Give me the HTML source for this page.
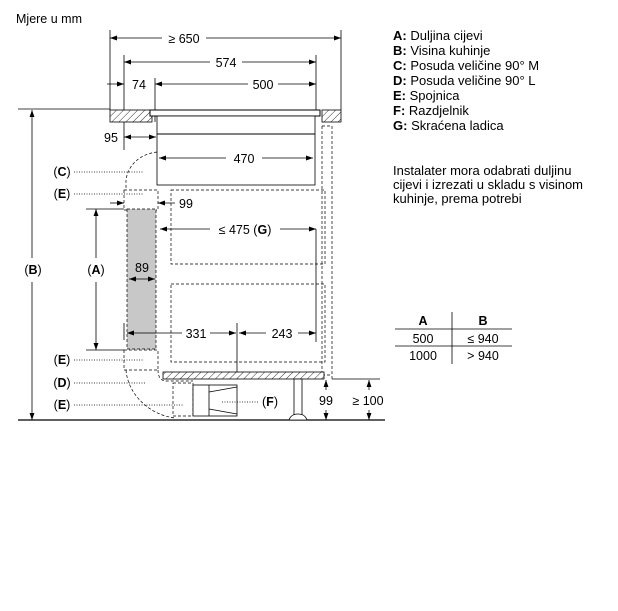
<!DOCTYPE html>
<html><head><style>
body{margin:0;background:#fff;}
svg{display:block;font-family:"Liberation Sans",Arial,sans-serif;}
</style></head><body>
<svg width="618" height="611" viewBox="0 0 618 611" xmlns="http://www.w3.org/2000/svg">
<defs>
<pattern id="h" width="5" height="5" patternUnits="userSpaceOnUse" patternTransform="rotate(45)">
<rect width="5" height="5" fill="#fff"/><line x1="0" y1="0" x2="0" y2="5" stroke="#000" stroke-width="0.8"/>
</pattern>
<marker id="a" viewBox="0 0 10 10" refX="10" refY="5" markerWidth="7" markerHeight="7" orient="auto-start-reverse" markerUnits="userSpaceOnUse"><path d="M0,1.5L10,5L0,8.5z" fill="#000"/></marker>
</defs>
<g font-size="12.5" fill="#000">
<text x="16" y="23">Mjere u mm</text>
</g>
<g stroke="#000" stroke-width="0.8" fill="none">
<line x1="110" y1="30" x2="110" y2="110"/>
<line x1="341" y1="30" x2="341" y2="110"/>
<line x1="124" y1="55" x2="124" y2="150"/>
<line x1="316" y1="55" x2="316" y2="116"/>
<line x1="155" y1="78" x2="155" y2="122"/>
<line x1="18" y1="109" x2="110" y2="109"/>
<line x1="110" y1="38" x2="162" y2="38" marker-start="url(#a)"/><line x1="206" y1="38" x2="341" y2="38" marker-end="url(#a)"/>
<line x1="124" y1="62" x2="210" y2="62" marker-start="url(#a)"/><line x1="242" y1="62" x2="316" y2="62" marker-end="url(#a)"/>
<line x1="107" y1="84" x2="124" y2="84" marker-end="url(#a)"/>
<line x1="155" y1="84" x2="248" y2="84" marker-start="url(#a)"/><line x1="278" y1="84" x2="316" y2="84" marker-end="url(#a)"/>
<line x1="124" y1="137" x2="156" y2="137" marker-start="url(#a)" marker-end="url(#a)"/>
<line x1="110" y1="203" x2="124" y2="203" marker-end="url(#a)"/><line x1="158" y1="203" x2="175" y2="203" marker-start="url(#a)"/>
<line x1="160" y1="229" x2="210" y2="229" marker-start="url(#a)"/><line x1="280" y1="229" x2="316" y2="229" marker-end="url(#a)"/>
<line x1="316" y1="229" x2="316" y2="342"/>
<line x1="86" y1="209" x2="124" y2="209"/><line x1="86" y1="350" x2="124" y2="350"/>
<line x1="96" y1="209" x2="96" y2="258" marker-start="url(#a)"/><line x1="96" y1="282" x2="96" y2="350" marker-end="url(#a)"/>
<line x1="124" y1="323" x2="124" y2="340"/>
<line x1="237" y1="323" x2="237" y2="377"/>
<line x1="32" y1="110" x2="32" y2="258" marker-start="url(#a)"/><line x1="32" y1="282" x2="32" y2="420" marker-end="url(#a)"/>
<line x1="332" y1="379" x2="380" y2="379"/>
<line x1="326" y1="380" x2="326" y2="390" marker-start="url(#a)"/><line x1="326" y1="410" x2="326" y2="420" marker-end="url(#a)"/>
<line x1="369" y1="380" x2="369" y2="390" marker-start="url(#a)"/><line x1="369" y1="410" x2="369" y2="420" marker-end="url(#a)"/>
<line x1="18" y1="420" x2="385" y2="420" stroke-width="1.2"/>
</g>
<rect x="110" y="110" width="42" height="12" fill="url(#h)" stroke="#000" stroke-width="0.8"/>
<rect x="322" y="110" width="19" height="12" fill="url(#h)" stroke="#000" stroke-width="0.8"/>
<rect x="150" y="110" width="170" height="6" fill="#fff" stroke="#000" stroke-width="1"/>
<rect x="157" y="116" width="158" height="69" fill="#fff" stroke="#000" stroke-width="0.8"/>
<line x1="157" y1="134" x2="315" y2="134" stroke="#000" stroke-width="1"/>
<g stroke="#000" stroke-width="0.8" fill="none">
<line x1="159" y1="158" x2="226" y2="158" marker-start="url(#a)"/><line x1="262" y1="158" x2="313" y2="158" marker-end="url(#a)"/>
</g>
<g stroke="#000" stroke-width="0.7" fill="none" stroke-dasharray="3,2">
<path d="M157,152 C140,154 128,165 126,180 L126,190"/>
<rect x="124" y="190" width="34" height="20"/>
<rect x="171" y="190" width="154" height="74"/>
<rect x="171" y="284" width="154" height="78"/>
<line x1="322" y1="126" x2="322" y2="375"/>
<line x1="332" y1="126" x2="332" y2="380"/>
<line x1="322" y1="126" x2="332" y2="126"/>
<line x1="322" y1="375" x2="332" y2="375"/>
<rect x="124" y="350" width="34" height="20"/>
<path d="M126,370 C128,395 150,415 175,418"/>
<path d="M158,370 C158,376 160,380 165,381 L193,381"/>
<rect x="173" y="383" width="20" height="33"/>
</g>
<rect x="127" y="209" width="29" height="140" fill="#c8c8c8" stroke="#000" stroke-width="0.7" stroke-dasharray="3,2"/>
<g stroke="#000" stroke-width="0.8" fill="none">
<line x1="129" y1="279" x2="155" y2="279" marker-start="url(#a)" marker-end="url(#a)"/>
<line x1="127" y1="333" x2="182" y2="333" marker-start="url(#a)"/><line x1="210" y1="333" x2="236" y2="333" marker-end="url(#a)"/>
<line x1="239" y1="333" x2="266" y2="333" marker-start="url(#a)"/><line x1="298" y1="333" x2="316" y2="333" marker-end="url(#a)"/>
</g>
<rect x="163" y="372" width="161" height="7" fill="url(#h)" stroke="#000" stroke-width="0.8"/>
<g stroke="#000" stroke-width="0.8" fill="#fff">
<rect x="193" y="385" width="44" height="31"/>
<path d="M209,385 L209,416 M209,392 L237,387 M209,409 L237,414" fill="none"/>
<rect x="294" y="379" width="8" height="36"/>
<path d="M289,420 Q291,414 298,414 Q305,414 307,420 Z"/>
</g>
<g stroke="#000" stroke-width="0.8" stroke-dasharray="1,1.5" fill="none">
<line x1="74" y1="172" x2="143" y2="172"/>
<line x1="74" y1="194" x2="143" y2="194"/>
<line x1="74" y1="360" x2="143" y2="360"/>
<line x1="74" y1="383" x2="146" y2="383"/>
<line x1="74" y1="405" x2="183" y2="405"/>
<line x1="222" y1="402" x2="258" y2="402"/>
</g>
<g font-size="12.5" fill="#000" text-anchor="middle">
<text x="184" y="43">≥ 650</text>
<text x="226" y="67">574</text>
<text x="139" y="89">74</text>
<text x="263" y="89">500</text>
<text x="111" y="142">95</text>
<text x="244" y="163">470</text>
<text x="186" y="208">99</text>
<text x="245" y="234">≤ 475 (<tspan font-weight="bold">G</tspan>)</text>
<text x="142" y="272">89</text>
<text x="196" y="338">331</text>
<text x="282" y="338">243</text>
<text x="326" y="405">99</text>
<text x="368" y="405">≥ 100</text>
<text x="33" y="274">(<tspan font-weight="bold">B</tspan>)</text>
<text x="96" y="274">(<tspan font-weight="bold">A</tspan>)</text>
<text x="62" y="176">(<tspan font-weight="bold">C</tspan>)</text>
<text x="62" y="198">(<tspan font-weight="bold">E</tspan>)</text>
<text x="62" y="364">(<tspan font-weight="bold">E</tspan>)</text>
<text x="62" y="387">(<tspan font-weight="bold">D</tspan>)</text>
<text x="62" y="409">(<tspan font-weight="bold">E</tspan>)</text>
<text x="270" y="406">(<tspan font-weight="bold">F</tspan>)</text>
</g>
<g font-size="13" fill="#000">
<text x="393" y="40"><tspan font-weight="bold">A:</tspan> Duljina cijevi</text>
<text x="393" y="55"><tspan font-weight="bold">B:</tspan> Visina kuhinje</text>
<text x="393" y="70"><tspan font-weight="bold">C:</tspan> Posuda veličine 90° M</text>
<text x="393" y="85"><tspan font-weight="bold">D:</tspan> Posuda veličine 90° L</text>
<text x="393" y="100"><tspan font-weight="bold">E:</tspan> Spojnica</text>
<text x="393" y="115"><tspan font-weight="bold">F:</tspan> Razdjelnik</text>
<text x="393" y="130"><tspan font-weight="bold">G:</tspan> Skraćena ladica</text>
<text x="393" y="175">Instalater mora odabrati duljinu</text>
<text x="393" y="189">cijevi i izrezati u skladu s visinom</text>
<text x="393" y="203">kuhinje, prema potrebi</text>
</g>
<g font-size="12.5" fill="#000" text-anchor="middle">
<text x="423" y="325" font-weight="bold">A</text>
<text x="483" y="325" font-weight="bold">B</text>
<text x="423" y="343">500</text>
<text x="483" y="343">≤ 940</text>
<text x="423" y="360">1000</text>
<text x="483" y="360">&gt; 940</text>
</g>
<g stroke="#000" stroke-width="0.8">
<line x1="395" y1="329" x2="512" y2="329"/>
<line x1="395" y1="346" x2="512" y2="346"/>
<line x1="452" y1="312" x2="452" y2="364"/>
</g>
</svg>
</body></html>
